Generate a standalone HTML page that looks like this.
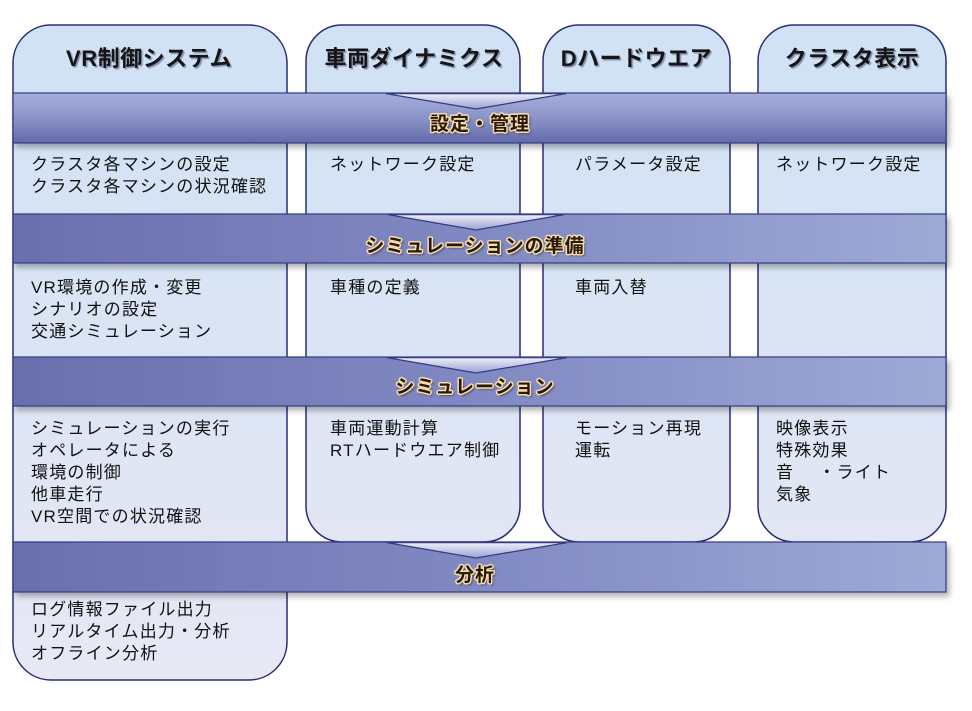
<!DOCTYPE html>
<html><head><meta charset="utf-8">
<style>
html,body{margin:0;padding:0;background:#fff;}
#wrap{position:relative;width:972px;height:711px;overflow:hidden;background:#fff;}
svg{position:absolute;left:0;top:0;}
.t{position:absolute;font-family:"Liberation Sans","Noto Sans CJK JP",sans-serif;font-size:17px;letter-spacing:1.2px;line-height:22px;color:#111;white-space:nowrap;}
.h{position:absolute;font-family:"Liberation Sans","Noto Sans CJK JP",sans-serif;font-size:22px;font-weight:bold;letter-spacing:0.5px;color:#151515;white-space:nowrap;text-align:center;line-height:26px;text-shadow:1.5px 1.5px 1px rgba(70,70,110,0.55);}
.b{position:absolute;font-family:"Liberation Sans","Noto Sans CJK JP",sans-serif;font-size:19px;font-weight:bold;letter-spacing:1px;color:#2a1705;white-space:nowrap;text-align:center;line-height:24px;
text-shadow:1.5px 0 0 #f7dfb0,-1.5px 0 0 #f7dfb0,0 1.5px 0 #f7dfb0,0 -1.5px 0 #f7dfb0,1.2px 1.2px 0 #f7dfb0,-1.2px -1.2px 0 #f7dfb0,1.2px -1.2px 0 #f7dfb0,-1.2px 1.2px 0 #f7dfb0,2px 2px 2px rgba(40,30,10,0.6);}
</style></head><body>
<div id="wrap">
<svg width="972" height="711" viewBox="0 0 972 711" xmlns="http://www.w3.org/2000/svg">
<defs>
<linearGradient id="col" x1="0" y1="25" x2="0" y2="680" gradientUnits="userSpaceOnUse">
<stop offset="0" stop-color="#d0e2f5"/>
<stop offset="0.45" stop-color="#dae4f4"/>
<stop offset="1" stop-color="#e8e8f5"/>
</linearGradient>
<linearGradient id="b1" x1="0" y1="0" x2="0" y2="1">
<stop offset="0" stop-color="#a6afda"/>
<stop offset="0.5" stop-color="#8a93c7"/>
<stop offset="1" stop-color="#6469aa"/>
</linearGradient>
<linearGradient id="bh" x1="0" y1="0" x2="1" y2="0">
<stop offset="0" stop-color="#6a6fae"/>
<stop offset="0.5" stop-color="#8189c2"/>
<stop offset="1" stop-color="#9eaad6"/>
</linearGradient>
<linearGradient id="chev" x1="0" y1="0" x2="0" y2="1">
<stop offset="0" stop-color="#eef0fa"/>
<stop offset="1" stop-color="#9ba1d0"/>
</linearGradient>
<filter id="sh" x="-5%" y="-30%" width="110%" height="170%">
<feDropShadow dx="3" dy="4" stdDeviation="3" flood-color="#000" flood-opacity="0.3"/>
</filter>
</defs>
<!-- columns -->
<rect x="13" y="25" width="274" height="655" rx="38" ry="38" fill="url(#col)" stroke="#2b2d74" stroke-width="1.5"/>
<rect x="306" y="25" width="214" height="517" rx="36" ry="36" fill="url(#col)" stroke="#2b2d74" stroke-width="1.5"/>
<rect x="543" y="25" width="187" height="517" rx="36" ry="36" fill="url(#col)" stroke="#2b2d74" stroke-width="1.5"/>
<rect x="758" y="25" width="188" height="517" rx="36" ry="36" fill="url(#col)" stroke="#2b2d74" stroke-width="1.5"/>
<!-- bands -->
<rect x="13" y="93" width="933" height="50" fill="url(#b1)" stroke="#353a82" stroke-width="1.2" filter="url(#sh)"/>
<rect x="13" y="214" width="933" height="49" fill="url(#bh)" stroke="#353a82" stroke-width="1.2" filter="url(#sh)"/>
<rect x="13" y="357" width="933" height="49" fill="url(#bh)" stroke="#353a82" stroke-width="1.2" filter="url(#sh)"/>
<rect x="13" y="542" width="933" height="50" fill="url(#bh)" stroke="#353a82" stroke-width="1.2" filter="url(#sh)"/>
<!-- chevrons -->
<g stroke="#353a82" stroke-width="1.2" fill="url(#chev)">
<polygon points="386,93.6 476,109 566,93.6"/>
<polygon points="388,214.6 476,230 564,214.6"/>
<polygon points="387,357.6 476,373 567,357.6"/>
<polygon points="387,542.6 476,558 567,542.6"/>
</g>
</svg>

<!-- headers -->
<div class="h" style="left:13px;top:46px;width:272px;">VR制御システム</div>
<div class="h" style="left:306px;top:46px;width:216px;">車両ダイナミクス</div>
<div class="h" style="left:543px;top:46px;width:187px;">Dハードウエア</div>
<div class="h" style="left:758px;top:46px;width:188px;">クラスタ表示</div>

<!-- band labels -->
<div class="b" style="left:380px;top:113px;width:200px;">設定・管理</div>
<div class="b" style="left:330px;top:235px;width:290px;">シミュレーションの準備</div>
<div class="b" style="left:370px;top:376px;width:210px;">シミュレーション</div>
<div class="b" style="left:400px;top:564px;width:150px;">分析</div>

<!-- row 1 -->
<div class="t" style="left:31px;top:154px;">クラスタ各マシンの設定<br>クラスタ各マシンの状況確認</div>
<div class="t" style="left:330px;top:154px;">ネットワーク設定</div>
<div class="t" style="left:575px;top:154px;">パラメータ設定</div>
<div class="t" style="left:776px;top:154px;">ネットワーク設定</div>

<!-- row 2 -->
<div class="t" style="left:31px;top:277px;">VR環境の作成・変更<br>シナリオの設定<br>交通シミュレーション</div>
<div class="t" style="left:330px;top:277px;">車種の定義</div>
<div class="t" style="left:575px;top:277px;">車両入替</div>

<!-- row 3 -->
<div class="t" style="left:31px;top:418px;">シミュレーションの実行<br>オペレータによる<br>環境の制御<br>他車走行<br>VR空間での状況確認</div>
<div class="t" style="left:330px;top:418px;">車両運動計算<br>RTハードウエア制御</div>
<div class="t" style="left:575px;top:418px;">モーション再現<br>運転</div>
<div class="t" style="left:776px;top:418px;">映像表示<br>特殊効果<br>音　 ・ライト<br>気象</div>

<!-- row 4 -->
<div class="t" style="left:31px;top:599px;">ログ情報ファイル出力<br>リアルタイム出力・分析<br>オフライン分析</div>
</div>
</body></html>
